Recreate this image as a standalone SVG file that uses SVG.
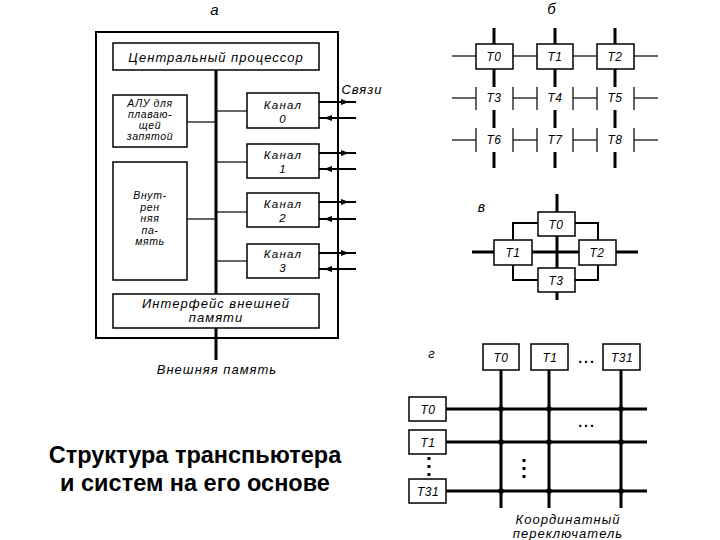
<svg xmlns="http://www.w3.org/2000/svg" width="720" height="540" viewBox="0 0 720 540">
<defs>
<style>
.t{font-family:"Liberation Sans",Arial,sans-serif;font-style:italic;font-size:13px;letter-spacing:1px;fill:#000;text-anchor:middle}
.s{font-size:12px;letter-spacing:0.5px}
.k{font-size:11.5px;letter-spacing:1.2px}
.x{font-size:10.5px;letter-spacing:0.6px}
.h{font-family:"Liberation Sans",Arial,sans-serif;font-weight:bold;font-size:23.5px;fill:#000;text-anchor:middle}
.box{fill:#fff;stroke:#000;stroke-width:1.5}
.thk{stroke:#000;stroke-width:3;fill:none}
.med{stroke:#000;stroke-width:2;fill:none}
.thn{stroke:#000;stroke-width:1.2;fill:none}
</style>
<marker id="ar" viewBox="0 0 8 6" refX="8" refY="3" markerWidth="9" markerHeight="6" markerUnits="userSpaceOnUse" orient="auto"><path d="M0,0 L8,3 L0,6 z" fill="#000"/></marker>
</defs>
<rect width="720" height="540" fill="#fff"/>

<!-- Part a -->
<text class="t" x="215" y="15" style="font-size:15px">а</text>
<g id="connectors-a">
<rect x="96" y="32" width="242" height="306" fill="none" stroke="#000" stroke-width="2"/>
<line class="thk" x1="216" y1="70" x2="216" y2="294"/>
<line class="thk" x1="216" y1="328" x2="216" y2="360"/>
<line class="thn" x1="187" y1="122" x2="216" y2="122"/>
<line class="thn" x1="187" y1="219" x2="216" y2="219"/>
<line class="thn" x1="216" y1="111" x2="247" y2="111"/>
<line class="thn" x1="216" y1="162" x2="247" y2="162"/>
<line class="thn" x1="216" y1="212" x2="247" y2="212"/>
<line class="thn" x1="216" y1="261" x2="247" y2="261"/>
<g class="med">
<line x1="319" y1="102" x2="356" y2="102"/><line x1="319" y1="102" x2="349" y2="102" marker-end="url(#ar)"/>
<line x1="319" y1="118" x2="356" y2="118"/><line x1="356" y1="118" x2="324" y2="118" marker-end="url(#ar)"/>
<line x1="319" y1="153" x2="356" y2="153"/><line x1="319" y1="153" x2="349" y2="153" marker-end="url(#ar)"/>
<line x1="319" y1="169" x2="356" y2="169"/><line x1="356" y1="169" x2="324" y2="169" marker-end="url(#ar)"/>
<line x1="319" y1="202" x2="356" y2="202"/><line x1="319" y1="202" x2="349" y2="202" marker-end="url(#ar)"/>
<line x1="319" y1="219" x2="356" y2="219"/><line x1="356" y1="219" x2="324" y2="219" marker-end="url(#ar)"/>
<line x1="319" y1="253" x2="356" y2="253"/><line x1="319" y1="253" x2="349" y2="253" marker-end="url(#ar)"/>
<line x1="319" y1="269" x2="356" y2="269"/><line x1="356" y1="269" x2="324" y2="269" marker-end="url(#ar)"/>
</g>
</g>
<g id="cpu"><rect class="box" x="113" y="43" width="206" height="27"/><text class="t" x="216" y="62">Центральный процессор</text></g>
<g id="alu"><rect class="box" x="113" y="95" width="74" height="52"/>
<text class="t x" x="150" y="107">АЛУ для</text><text class="t x" x="150" y="118">плаваю-</text><text class="t x" x="150" y="129">щей</text><text class="t x" x="150" y="140">запятой</text></g>
<g id="mem"><rect class="box" x="113" y="162" width="74" height="118"/>
<text class="t x" x="150" y="199">Внут-</text><text class="t x" x="150" y="211">рен</text><text class="t x" x="150" y="222">няя</text><text class="t x" x="150" y="234">па-</text><text class="t x" x="150" y="245">мять</text></g>
<g id="ch0"><rect class="box" x="247" y="93" width="72" height="35"/><text class="t k" x="283" y="109">Канал</text><text class="t k" x="283" y="123">0</text></g>
<g id="ch1"><rect class="box" x="247" y="144" width="72" height="34"/><text class="t k" x="283" y="159">Канал</text><text class="t k" x="283" y="173">1</text></g>
<g id="ch2"><rect class="box" x="247" y="193" width="72" height="34"/><text class="t k" x="283" y="208">Канал</text><text class="t k" x="283" y="222">2</text></g>
<g id="ch3"><rect class="box" x="247" y="244" width="72" height="34"/><text class="t k" x="283" y="258">Канал</text><text class="t k" x="283" y="272">3</text></g>
<g id="iface"><rect class="box" x="113" y="294" width="206" height="34"/><text class="t" x="216" y="308">Интерфейс внешней</text><text class="t" x="216" y="322">памяти</text></g>
<text class="t" x="217" y="374">Внешняя память</text>
<text class="t" x="362" y="94">Связи</text>

<!-- Part b -->
<text class="t" x="552" y="14" style="font-size:15px">б</text>
<g id="connectors-b">
<g class="thk">
<line x1="494" y1="28" x2="494" y2="44"/><line x1="494" y1="69" x2="494" y2="87"/><line x1="494" y1="110" x2="494" y2="128"/><line x1="494" y1="152" x2="494" y2="168"/>
<line x1="555" y1="28" x2="555" y2="44"/><line x1="555" y1="69" x2="555" y2="87"/><line x1="555" y1="110" x2="555" y2="128"/><line x1="555" y1="152" x2="555" y2="168"/>
<line x1="615" y1="28" x2="615" y2="44"/><line x1="615" y1="69" x2="615" y2="87"/><line x1="615" y1="110" x2="615" y2="128"/><line x1="615" y1="152" x2="615" y2="168"/>
</g>
<g class="thn">
<line x1="452" y1="56" x2="476" y2="56"/><line x1="513" y1="56" x2="537" y2="56"/><line x1="573" y1="56" x2="597" y2="56"/><line x1="634" y1="56" x2="658" y2="56"/>
<line x1="452" y1="98" x2="476" y2="98"/><line x1="513" y1="98" x2="537" y2="98"/><line x1="573" y1="98" x2="597" y2="98"/><line x1="634" y1="98" x2="658" y2="98"/>
<line x1="452" y1="140" x2="476" y2="140"/><line x1="513" y1="140" x2="537" y2="140"/><line x1="573" y1="140" x2="597" y2="140"/><line x1="634" y1="140" x2="658" y2="140"/>
</g>
</g>
<g id="b-t0"><rect class="box" x="476" y="44" width="37" height="25"/><text class="t s" x="494" y="61">T0</text></g>
<g id="b-t1"><rect class="box" x="537" y="44" width="36" height="25"/><text class="t s" x="555" y="61">T1</text></g>
<g id="b-t2"><rect class="box" x="597" y="44" width="37" height="25"/><text class="t s" x="615" y="61">T2</text></g>
<g id="b-t3"><path class="thn" d="M476,87V110M513,87V110" stroke-width="1.5"/><text class="t s" x="494" y="102">T3</text></g>
<g id="b-t4"><path class="thn" d="M537,87V110M573,87V110" stroke-width="1.5"/><text class="t s" x="555" y="102">T4</text></g>
<g id="b-t5"><path class="thn" d="M597,87V110M634,87V110" stroke-width="1.5"/><text class="t s" x="615" y="102">T5</text></g>
<g id="b-t6"><path class="thn" d="M476,128V152M513,128V152" stroke-width="1.5"/><text class="t s" x="494" y="144">T6</text></g>
<g id="b-t7"><path class="thn" d="M537,128V152M573,128V152" stroke-width="1.5"/><text class="t s" x="555" y="144">T7</text></g>
<g id="b-t8"><path class="thn" d="M597,128V152M634,128V152" stroke-width="1.5"/><text class="t s" x="615" y="144">T8</text></g>

<!-- Part v -->
<text class="t" x="482" y="212" style="font-size:14px">в</text>
<g id="connectors-v">
<line class="thk" x1="557" y1="194" x2="557" y2="300"/>
<line class="thk" x1="472" y1="252" x2="638" y2="252"/>
<path class="med" d="M538,223H513V240M575,223H598V240M513,265V280H538M598,265V280H575"/>
</g>
<g id="v-t0"><rect class="box" x="538" y="212" width="37" height="24"/><text class="t s" x="556" y="229">T0</text></g>
<g id="v-t1"><rect class="box" x="494" y="240" width="38" height="25"/><text class="t s" x="513" y="257">T1</text></g>
<g id="v-t2"><rect class="box" x="579" y="240" width="37" height="25"/><text class="t s" x="597" y="257">T2</text></g>
<g id="v-t3"><rect class="box" x="538" y="268" width="37" height="24"/><text class="t s" x="556" y="285">T3</text></g>

<!-- Part g -->
<text class="t" x="432" y="358" style="font-size:13px">г</text>
<g id="connectors-g">
<g class="thk">
<line x1="501" y1="370" x2="501" y2="508"/><line x1="549" y1="370" x2="549" y2="508"/><line x1="621" y1="370" x2="621" y2="508"/>
<line x1="446" y1="409" x2="647" y2="409"/><line x1="446" y1="442" x2="647" y2="442"/><line x1="446" y1="491" x2="647" y2="491"/>
</g>
<g fill="#000">
<circle cx="501" cy="409" r="2.8"/><circle cx="549" cy="409" r="2.8"/><circle cx="621" cy="409" r="2.8"/>
<circle cx="501" cy="442" r="2.8"/><circle cx="549" cy="442" r="2.8"/><circle cx="621" cy="442" r="2.8"/>
<circle cx="501" cy="491" r="2.8"/><circle cx="549" cy="491" r="2.8"/><circle cx="621" cy="491" r="2.8"/>
<rect x="427.5" y="457" width="3" height="3"/><rect x="427.5" y="465" width="3" height="3"/><rect x="427.5" y="473" width="3" height="3"/>
<rect x="522.5" y="459" width="3" height="3"/><rect x="522.5" y="467" width="3" height="3"/><rect x="522.5" y="475" width="3" height="3"/>
</g>
</g>
<text class="t" x="587" y="363" style="font-style:normal;font-weight:bold;font-size:14px;letter-spacing:2px">...</text>
<text class="t" x="587" y="427" style="font-style:normal;font-weight:bold;font-size:14px;letter-spacing:2px">...</text>
<g id="g-top-t0"><rect class="box" x="483" y="344" width="36" height="26"/><text class="t s" x="501" y="362">T0</text></g>
<g id="g-top-t1"><rect class="box" x="531" y="344" width="37" height="26"/><text class="t s" x="550" y="362">T1</text></g>
<g id="g-top-t31"><rect class="box" x="603" y="344" width="37" height="26"/><text class="t s" x="622" y="362">T31</text></g>
<g id="g-left-t0"><rect class="box" x="409" y="397" width="37" height="24"/><text class="t s" x="428" y="414">T0</text></g>
<g id="g-left-t1"><rect class="box" x="409" y="430" width="37" height="24"/><text class="t s" x="428" y="447">T1</text></g>
<g id="g-left-t31"><rect class="box" x="409" y="479" width="37" height="24"/><text class="t s" x="428" y="496">T31</text></g>
<text class="t" x="568" y="524">Координатный</text>
<text class="t" x="568" y="538">переключатель</text>

<!-- Title -->
<text class="h" x="195" y="463">Структура транспьютера</text>
<text class="h" x="195" y="491">и систем на его основе</text>
</svg>
